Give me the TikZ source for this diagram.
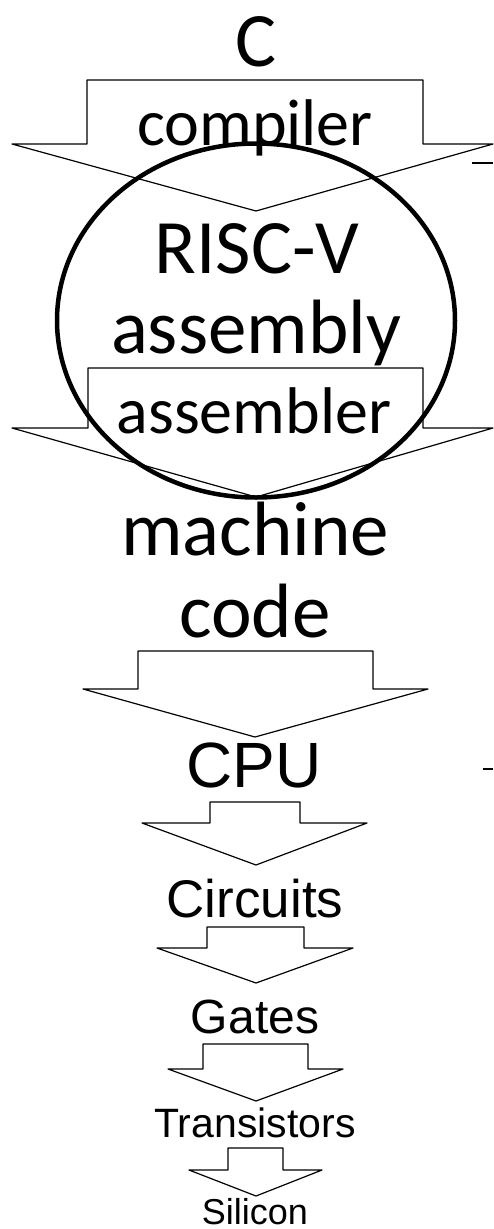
\documentclass[tikz,border=0pt]{standalone}
\usepackage{fontspec}
\setmainfont{Carlito}
\newfontfamily\arialfont{Liberation Sans}
\usetikzlibrary{positioning}

\begin{document}
\begin{tikzpicture}[x=1pt,y=-1pt,
        big-label/.style={anchor=base,inner sep=0pt,font=\fontsize{77}{80}\selectfont},
        tool-label/.style={anchor=base,inner sep=0pt,font=\fontsize{66}{70}\selectfont},
        hw-label/.style={anchor=base,inner sep=0pt},
        block-arrow/.style={draw,line width=1.2pt,line join=round},
        tick-mark/.style={line width=2pt}
    ]
        \useasboundingbox (0,0) rectangle (493,1229);

        % block arrows between the levels
        \draw[block-arrow] (87,80) -- (423,80) -- (423,144) -- (493,144) -- (256,211) -- (12,144) -- (87,144) -- cycle;
        \draw[block-arrow] (88,368) -- (423,368) -- (423,428) -- (493,428) -- (256,497) -- (12,428) -- (88,428) -- cycle;
        \draw[block-arrow] (138,651) -- (373,651) -- (373,689) -- (428,689) -- (255,737) -- (83,689) -- (138,689) -- cycle;
        \draw[block-arrow] (210,802) -- (300,802) -- (300,823) -- (367,823) -- (256,865) -- (142,823) -- (210,823) -- cycle;
        \draw[block-arrow] (207,927) -- (304,927) -- (304,948) -- (353,948) -- (256,983) -- (157,948) -- (207,948) -- cycle;
        \draw[block-arrow] (203,1044) -- (308,1044) -- (308,1069) -- (343,1069) -- (256,1101) -- (168,1069) -- (203,1069) -- cycle;
        \draw[block-arrow] (228,1148) -- (283,1148) -- (283,1170) -- (322,1170) -- (256,1196) -- (189,1170) -- (228,1170) -- cycle;

        \node[big-label]  (src)       at (256,66)  {C};
        \node[tool-label] (compiler)  at (255,145) {compiler};
        \node[big-label]  (risc)      at (257,273) {RISC-V};
        \node[big-label]  (asm)       at (256,353) {assembly};
        \node[tool-label] (assembler) at (254,433) {assembler};
        \node[big-label]  (machine)   at (255,555) {machine};
        \node[big-label]  (code)      at (255,637) {code};

        \node[hw-label,font=\arialfont\fontsize{64}{70}\selectfont] (cpu)         at (254,787)  {CPU};
        \node[hw-label,font=\arialfont\fontsize{53}{60}\selectfont] (circuits)    at (255,917)  {Circuits};
        \node[hw-label,font=\arialfont\fontsize{48}{54}\selectfont] (gates)       at (255,1033) {Gates};
        \node[hw-label,font=\arialfont\fontsize{41}{48}\selectfont] (transistors) at (255,1137) {Transistors};
        \node[hw-label,font=\arialfont\fontsize{36}{42}\selectfont] (silicon)     at (255,1224) {Silicon};

        % highlight round the assembly level
        \draw[line width=4.5pt] (256,320.5) ellipse [x radius=199, y radius=177];

        \coordinate (tickA) at (472,162.5);
        \coordinate (tickB) at (483,768.5);
        \draw[tick-mark] (tickA) -- ++(21,0);
        \draw[tick-mark] (tickB) -- ++(10,0);
    \end{tikzpicture}
\end{document}
